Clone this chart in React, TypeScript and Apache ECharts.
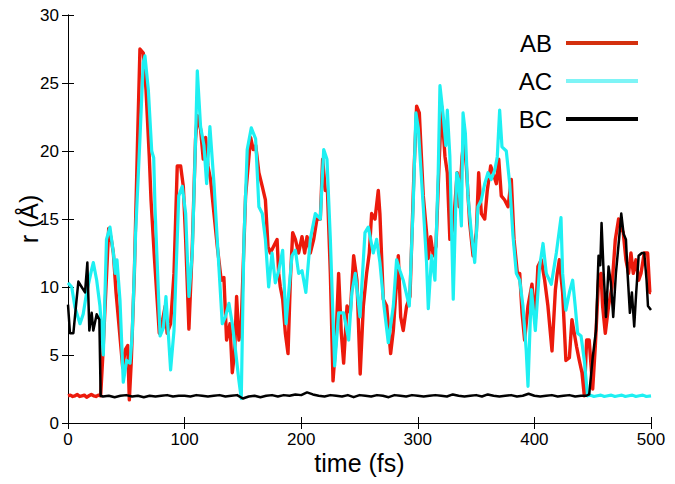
import React, { useEffect, useRef } from "react";
import * as echarts from "echarts";

const seriesNames = ["AB", "AC", "BC"];
const seriesColors = ["#ec1a0c", "#1ef0f2", "#000000"];
const legendColors = ["#d4300e", "#7ef4f6", "#000000"];

const xTicks = { min: 0, max: 500, interval: 100 };
const yTicks = { min: 0, max: 30, interval: 5 };

const abPoints: [number, number][] = [
  [0, 2.0], [2, 2.05], [4, 1.95], [6, 2.0], [8, 2.1], [10, 1.95], [12, 2.0], [14, 2.05], [16, 1.9], [18, 2.0],
  [20, 2.1], [22, 2.0], [24, 1.95], [26, 2.05], [28, 2.0],
  [29.7, 4.7], [34.9, 14.3], [36.9, 13.6], [38.9, 12.5], [41.2, 9.6], [44, 6.9], [46.9, 4.1], [49.2, 5.4],
  [51.2, 5.7], [52.6, 1.7], [54.3, 4.6], [56.9, 11], [59.7, 20.9], [61.7, 27.5], [64.6, 27.2], [66.9, 24.5],
  [69.7, 19.6], [71.2, 16.4], [74, 12.3], [78.3, 6.6], [81.2, 7.6], [83.4, 8.6], [85, 6.6], [88, 7.3],
  [90.9, 11], [93.7, 18.9], [96.6, 18.9], [98.9, 17.4], [100.9, 13.5], [103.7, 6.9], [106.6, 13], [109.4, 20.9],
  [110.9, 22.6], [113.7, 21.6], [116, 19.4], [118, 21], [120, 18.9], [122.3, 17.9], [124.6, 15.9], [128, 13],
  [131.4, 10.5], [133.7, 10.7], [136, 6.1], [138.9, 7.3], [140.9, 3.7], [142.9, 5.2], [144.6, 9.3], [146.6, 6.1],
  [148.6, 7.3], [152.3, 16.7], [156.6, 21], [158.9, 20.1], [161, 20.4], [163.7, 18.4], [166.6, 17.4], [169.3, 16.4],
  [171.5, 13], [173.5, 12.5], [176.4, 13], [179.3, 13.5], [180.7, 11], [182.1, 10], [184.1, 9.1], [186.4, 6.6],
  [188.7, 5.1], [190.7, 10.5], [192.7, 14], [195, 13.5], [197.8, 12.5], [200.7, 13.7], [203, 12.5], [205, 13.7],
  [207.8, 12.5], [210.7, 13.5], [213.5, 15], [216.4, 15], [218.4, 19.4], [220.7, 17.1], [222.5, 17.1], [225, 11],
  [227.3, 3.1], [229.8, 6.1], [232.1, 11], [234.4, 6.6], [236.4, 4.4], [239.3, 8.6], [242.1, 8.1], [245, 12.3],
  [247.8, 10.5], [250.6, 3.6], [253.3, 8.6], [256.1, 11], [258.4, 12.5], [260.4, 15.4], [263.3, 15], [266.1, 17.1],
  [267.5, 15.4], [270.4, 9.1], [273.3, 8.6], [276.7, 5.1], [279, 6.8], [283.3, 12.3], [285.3, 7.8], [287.5, 6.8],
  [290.4, 8.6], [293.3, 9.3], [296.7, 18.4], [299, 23.3], [301.3, 22.8], [304.7, 16.7], [307.5, 14], [309, 12.1],
  [311, 13.7], [313.3, 12.3], [315.6, 13], [318.4, 19.4], [320.4, 23.3], [323.3, 19.6], [325.3, 18.4], [327.5, 13.5],
  [330.4, 14.4], [333.8, 18.4], [335.5, 15.9], [338, 19.6], [339.6, 20.8], [341.6, 18.9], [344.5, 14.7], [347.4, 12.3],
  [350.2, 14], [352.2, 18.4], [354.5, 15.4], [357.4, 15], [359.6, 17.1], [362.5, 18.9], [364.5, 18.4], [367.4, 17.6],
  [369.4, 19.4], [371.6, 16.7], [374.5, 16.4], [377.4, 15.9], [380.2, 17.9], [382.5, 13.5], [385.4, 11], [387.4, 11],
  [389.4, 8.1], [391.6, 6.1], [394.5, 8.6], [397.9, 10.2], [400.8, 7.6], [403, 11.5], [405.9, 12], [408.8, 10.5],
  [411.6, 8.6], [415.1, 5.3], [418, 9.8], [419.6, 11], [421.4, 12], [424.2, 9.6], [427, 4.6], [430, 4.8],
  [432.2, 7.6], [434.2, 6.6], [436.2, 5.6], [438.5, 4.6], [440.8, 3.7], [442.8, 2.0], [444.8, 6.1], [447, 6.1],
  [450, 2.5], [452.2, 5.6], [455, 10.5], [457.1, 11], [458.5, 8.6], [460.8, 6.6], [463.6, 8.6], [466.5, 10],
  [469.4, 13.5], [472.2, 15], [474.2, 14.4], [476.2, 14], [478.5, 12], [480.8, 11], [482.8, 12.5], [484.8, 11],
  [487.1, 12], [489.4, 10.5], [491.4, 11], [494.2, 12.5], [497.1, 12.5], [499, 9.6], [500, 9.6],
];

const acPoints: [number, number][] = [
  [0, 10.3], [3.2, 10], [6, 8.5], [10.3, 7.3], [13, 8], [16, 9.6], [20.3, 11.3], [21.7, 11.8], [24.6, 10.5],
  [27.4, 8.6], [30.3, 5.0], [33, 13.5], [36, 14.4], [38.9, 12.5], [40.5, 11], [42, 12], [44.6, 9], [47.4, 3.0],
  [50.3, 4.6], [53.2, 4.4], [55, 6.4], [58, 14], [61.7, 20.9], [64.5, 26.5], [66, 27], [68.9, 24.5], [71.8, 20],
  [73.5, 19.5], [74.6, 15.9], [79, 6.4], [81.8, 7.0], [84, 9.3], [86, 6.6], [88, 3.9], [90.9, 6.8], [95, 16.7],
  [98, 17.4], [100.9, 15.4], [103.7, 9.3], [106.6, 12.5], [109.4, 20.9], [110.9, 25.9], [113.7, 21.8], [116.6, 20.4],
  [118.9, 17.6], [121.7, 21.8], [125.2, 17.6], [128, 13.5], [132.3, 7.3], [135, 7.8], [138, 8.8], [140.9, 7.3],
  [143.7, 5.3], [146.6, 3.1], [148.6, 1.8], [150.9, 13.5], [153.7, 20.1], [157.2, 21.7], [160.9, 20.9], [163.7, 15.9],
  [166.6, 15.4], [169.3, 13.5], [172.1, 10.0], [175, 12.5], [177.8, 10.3], [180.7, 11.2], [184.1, 12.7], [187, 7.3],
  [189.3, 9.6], [192.1, 12.3], [195, 12.7], [197.8, 11], [200.7, 11.2], [204, 9.6], [207.8, 13.5], [212.1, 15.4],
  [216.4, 15], [219.3, 20.1], [222.1, 19.4], [225, 13.5], [228.7, 4.2], [232.1, 8.1], [236.4, 8.1], [240.7, 6.1],
  [243.5, 9.6], [246.4, 11], [250.4, 7.8], [254.7, 14], [257.5, 14.4], [261.8, 12.5], [264.7, 13.5], [267.5, 11.8],
  [271, 8.6], [274.7, 5.9], [279, 8.6], [281.8, 12], [284.7, 11.2], [287.5, 10.5], [292.7, 8.6], [296, 15.9],
  [298.4, 22.8], [300.4, 21.7], [304.7, 15.9], [307.5, 11.8], [309, 8.4], [311.8, 12.3], [314.7, 10.5], [317.5, 18.4],
  [319, 24.8], [321.8, 22.6], [324.1, 20.4], [325.3, 23], [327.5, 19.6], [330.4, 9.1], [333.3, 18.4], [335, 17.9],
  [337.4, 14.5], [338.8, 22.8], [340.8, 21.3], [343, 16.7], [345.9, 14], [348.8, 11.8], [351.6, 15.9], [354.5, 16.4],
  [357.4, 17.6], [360.2, 18.4], [363, 17.9], [366, 18.6], [368.2, 19.6], [370.2, 23], [372.2, 20.3], [375.9, 20],
  [378.8, 17.6], [381.6, 13.8], [384.5, 11], [387.4, 10.5], [390.2, 8.6], [393, 5.3], [394.5, 2.7], [397.4, 9.8],
  [400.8, 6.8], [404.5, 11.5], [407.4, 13.2], [410.2, 11], [414.5, 10.2], [418.8, 12.5], [422.8, 15.1], [424.2, 11],
  [427, 8.3], [430, 9.6], [432.8, 10.5], [435, 8.6], [437.1, 6.6], [440, 6.4], [442.8, 4.6], [445.6, 2.0],
  [448, 2.05], [451, 1.95], [454, 2.0], [457, 2.05], [460, 1.95], [463, 2.0], [466, 2.05], [469, 1.95], [472, 2.0],
  [475, 2.05], [478, 1.95], [481, 2.0], [484, 2.05], [487, 1.95], [490, 2.0], [493, 2.05], [496, 1.95], [500, 2.0],
];

const bcPoints: [number, number][] = [
  [0, 8.7], [1.7, 6.6], [4.6, 6.6], [7.4, 9.1], [8.9, 10.4], [11.7, 10], [14.6, 9.6], [16.6, 11.8], [18.3, 6.8],
  [20.3, 8.1], [21.7, 6.8], [24.6, 8], [26.9, 7.6], [28, 2.0],
  [30, 1.95], [35, 2.0], [40, 1.9], [45, 2.0], [50, 2.05], [55, 1.95], [60, 2.0], [65, 1.9], [70, 2.0], [75, 1.95],
  [80, 2.0], [85, 2.05], [90, 1.95], [95, 2.0], [100, 2.0], [105, 1.95], [110, 2.05], [115, 2.0], [120, 1.95],
  [125, 2.0], [130, 2.05], [135, 1.95], [140, 2.0], [145, 2.05], [150, 1.8], [155, 1.95], [160, 2.0], [165, 1.9],
  [170, 2.0], [175, 2.05], [180, 1.95], [185, 2.05], [190, 2.0], [195, 2.1], [200, 2.05], [205, 2.25], [210, 2.1],
  [215, 2.0], [220, 1.95], [225, 2.05], [230, 2.0], [235, 1.95], [240, 2.05], [245, 1.9], [250, 2.05], [255, 2.0],
  [260, 1.95], [265, 2.05], [270, 2.0], [275, 1.9], [280, 2.05], [285, 2.0], [290, 1.95], [295, 2.05], [300, 2.0],
  [305, 1.95], [310, 2.0], [315, 2.05], [320, 2.0], [325, 1.95], [330, 2.1], [335, 2.0], [340, 1.95], [345, 2.0],
  [350, 2.05], [355, 1.95], [360, 2.1], [365, 2.0], [370, 1.95], [375, 2.0], [380, 2.05], [385, 1.95], [390, 2.0],
  [395, 2.15], [400, 2.0], [405, 1.95], [410, 2.0], [415, 2.05], [420, 1.95], [425, 2.0], [430, 2.05], [435, 1.95],
  [440, 2.0], [444.2, 2.0], [447, 2.1], [450, 4.8], [452.8, 6.8], [455, 12.3], [456.5, 11.6], [457.6, 14.7],
  [459.4, 11], [461.4, 7.8], [463.6, 11.5], [465.6, 10.3], [467.6, 7.8], [469.9, 11], [472.8, 13.7], [474.5, 15.4],
  [476.5, 13.9], [478.5, 13.5], [479.9, 11], [481.9, 8.1], [483.6, 9.6], [485.6, 7.1], [487.1, 9.3], [489.4, 12.3],
  [492.2, 12.5], [494.2, 12.5], [496.2, 10.5], [497.4, 8.6], [500, 8.3],
];

const allPoints = [abPoints, acPoints, bcPoints];
const lineWidths = [3.4, 3.2, 2.5];

const FONT = "'Liberation Sans', Arial, Helvetica, sans-serif";

export default function App() {
  const ref = useRef<HTMLDivElement>(null);
  useEffect(() => {
    if (!ref.current) return;
    const chart = echarts.init(ref.current, undefined, { renderer: "svg" });
    const axisLine = { show: true, lineStyle: { color: "#000", width: 1 } };
    const tick = { show: true, inside: true, length: 6, lineStyle: { color: "#000", width: 1 } };
    chart.setOption({
      animation: false,
      backgroundColor: "#ffffff",
      textStyle: { fontFamily: FONT },
      grid: { left: 68, right: 24, top: 15, bottom: 61 },
      legend: {
        orient: "vertical",
        right: 32,
        top: 26,
        align: "right",
        icon: "rect",
        itemWidth: 72,
        itemHeight: 4,
        itemGap: 14,
        selectedMode: false,
        textStyle: { fontSize: 24, color: "#000", fontFamily: FONT, lineHeight: 24, padding: [0, 9, 0, 0] },
        data: seriesNames.map((n, i) => ({ name: n, itemStyle: { color: legendColors[i] } })),
      },
      xAxis: [
        {
          type: "value",
          position: "bottom",
          ...xTicks,
          axisLine,
          axisTick: tick,
          splitLine: { show: false },
          axisLabel: { fontSize: 17, color: "#000", margin: 8, fontFamily: FONT },
          name: "time (fs)",
          nameLocation: "middle",
          nameGap: 27,
          nameMoveOverlap: false,
          nameTextStyle: { fontSize: 25, color: "#000", fontFamily: FONT },
        },
        {
          type: "value",
          position: "top",
          ...xTicks,
          axisLine,
          axisTick: tick,
          splitLine: { show: false },
          axisLabel: { show: false },
        },
      ],
      yAxis: [
        {
          type: "value",
          position: "left",
          ...yTicks,
          axisLine,
          axisTick: tick,
          splitLine: { show: false },
          axisLabel: { fontSize: 17, color: "#000", margin: 9, fontFamily: FONT },
          name: "r (Å)",
          nameLocation: "middle",
          nameGap: 27,
          nameRotate: 90,
          nameMoveOverlap: false,
          nameTextStyle: { fontSize: 25, color: "#000", fontFamily: FONT },
        },
        {
          type: "value",
          position: "right",
          ...yTicks,
          axisLine,
          axisTick: tick,
          splitLine: { show: false },
          axisLabel: { show: false },
        },
      ],
      series: seriesNames.map((n, i) => ({
        name: n,
        type: "line",
        xAxisIndex: 0,
        yAxisIndex: 0,
        data: allPoints[i],
        showSymbol: false,
        symbol: "none",
        color: seriesColors[i],
        lineStyle: { color: seriesColors[i], width: lineWidths[i], join: "round" },
        z: 2 + i,
      })),
    });
    return () => chart.dispose();
  }, []);
  return (
    <div
      ref={ref}
      style={{ position: "fixed", left: 0, top: 0, width: 675, height: 484, background: "#fff" }}
    />
  );
}
